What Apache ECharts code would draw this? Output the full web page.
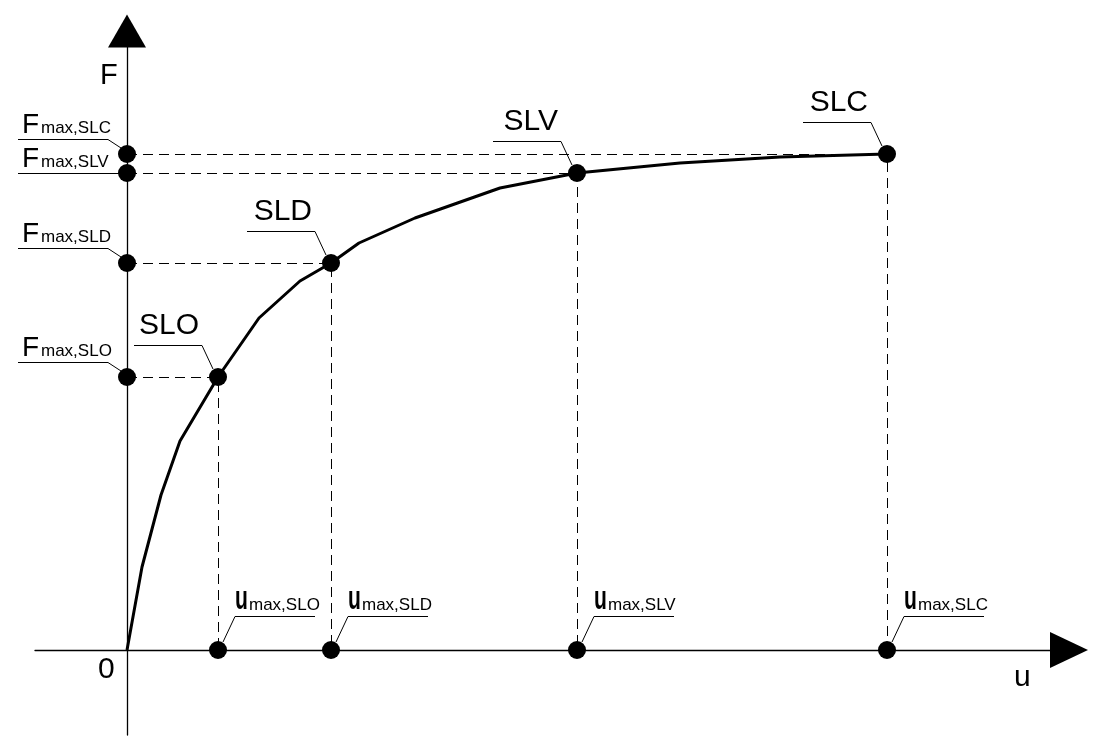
<!DOCTYPE html>
<html><head><meta charset="utf-8">
<script src="https://cdn.jsdelivr.net/npm/echarts@6/dist/echarts.min.js"></script>
<style>html,body{margin:0;padding:0;background:#fff}#c{width:1102px;height:737px}</style>
</head><body><div id="c"></div>
<script>
// ---- data ----
const stateNames = ['SLO', 'SLD', 'SLV', 'SLC'];
const uMax = [9.1, 20.4, 45.0, 76.0];
const fMax = [27.3, 38.7, 47.7, 49.6];
const curveU = [0, 1.5, 3.4, 5.3, 9.1, 13.2, 17.3, 20.4, 23.2, 28.8, 37.3, 45.0, 55.3, 65.3, 76.0];
const curveF = [0, 8.3, 15.5, 20.9, 27.3, 33.2, 36.9, 38.7, 40.7, 43.2, 46.2, 47.7, 48.7, 49.3, 49.6];
const axisNameX = 'u';
const axisNameY = 'F';
const originLabel = '0';
const subPrefix = 'max,';

const FONT = '"Liberation Sans", Arial, sans-serif';
function midY(baseline, fs) { return baseline - 0.3465 * fs; }
function crisp(v) { return Math.round(v - 0.5) + 0.5; }

const chart = echarts.init(document.getElementById('c'), null, {renderer: 'canvas'});

function seg(pts) {
  return {type: 'polyline', shape: {points: pts}, style: {stroke: '#000', lineWidth: 1, fill: null}};
}
function txt(x, y, text, font, align, extra) {
  return Object.assign({type: 'text', x: x, y: y,
    style: {text: text, font: font, align: align || 'left', verticalAlign: 'middle', fill: '#000'}}, extra || {});
}

function renderLabel(params, api) {
  const kind = api.value(2);
  const i = api.value(3);
  const p = api.coord([api.value(0), api.value(1)]);
  const name = stateNames[i];
  const ch = [];
  if (kind === 0) {
    const ulY = crisp(p[1] - 32), ulR = p[0] - 16, ulL = ulR - 68;
    ch.push(seg([[ulL, ulY], [ulR, ulY], [p[0] - 5, p[1] - 8]]));
    ch.push(txt(ulR - 3, midY(ulY - 9, 30), name, '30px ' + FONT, 'right'));
  } else if (kind === 1) {
    const yi = api.coord([0, fMax[i]])[1];
    const crowded = fMax.some(function (f) {
      return f > fMax[i] && (yi - api.coord([0, f])[1]) < 30;
    });
    let ulY, ulL = p[0] - 109, ulR;
    if (crowded) {
      ulY = crisp(p[1]); ulR = p[0] - 8;
      ch.push(seg([[ulL, ulY], [ulR, ulY]]));
    } else {
      ulY = crisp(p[1] - 15); ulR = p[0] - 19;
      ch.push(seg([[ulL, ulY], [ulR, ulY], [p[0] - 6, p[1] - 6]]));
    }
    const B = ulY - 5;
    ch.push(txt(p[0] - 105, midY(B, 28), 'F', '28px ' + FONT));
    ch.push(txt(p[0] - 86, midY(B, 17), subPrefix + name, '17px ' + FONT));
  } else {
    const ulY = crisp(p[1] - 34), ulL = p[0] + 17, ulR = p[0] + 97;
    ch.push(seg([[ulR, ulY], [ulL, ulY], [p[0] + 5, p[1] - 8]]));
    const B = ulY - 5;
    ch.push(txt(p[0] + 17, midY(B, 34), 'u', 'bold 34px ' + FONT, 'left', {scaleX: 0.62}));
    ch.push(txt(p[0] + 31, midY(B, 17), subPrefix + name, '17px ' + FONT));
  }
  return {type: 'group', children: ch};
}

function renderDash(params, api) {
  const u = api.value(0), f = api.value(1);
  const a = api.coord([0, f]), b = api.coord([u, f]), c = api.coord([u, 0]);
  const y = crisp(b[1]), x = crisp(b[0]);
  return {type: 'polyline', shape: {points: [[a[0], y], [x, y], [x, c[1]]]},
    style: {stroke: '#000', lineWidth: 1, fill: null, lineDash: [10, 6]}};
}

const labelData = [];
const dotData = [];
const dashData = [];
for (let i = 0; i < stateNames.length; i++) {
  labelData.push([uMax[i], fMax[i], 0, i]);
  labelData.push([0, fMax[i], 1, i]);
  labelData.push([uMax[i], 0, 2, i]);
  dotData.push([uMax[i], fMax[i]], [0, fMax[i]], [uMax[i], 0]);
  dashData.push([uMax[i], fMax[i]]);
}
const curveData = curveU.map(function (u, k) { return [u, curveF[k]]; });

const option = {
  animation: false,
  backgroundColor: '#fff',
  grid: {left: 35, right: 33, top: 31, bottom: 2, containLabel: false},
  xAxis: {
    type: 'value', min: -9.2, max: 94.2,
    axisLine: {onZero: true, lineStyle: {color: '#000', width: 1.3},
      symbol: ['none', 'triangle'], symbolSize: [36, 38]},
    axisTick: {show: false}, axisLabel: {show: false}, splitLine: {show: false}
  },
  yAxis: {
    type: 'value', min: -8.5, max: 61.9,
    axisLine: {onZero: true, lineStyle: {color: '#000', width: 1.3},
      symbol: ['none', 'triangle'], symbolSize: [38, 33]},
    axisTick: {show: false}, axisLabel: {show: false}, splitLine: {show: false}
  },
  graphic: [
    {type: 'text', x: 100, y: midY(86, 29), style: {text: axisNameY, font: '29px ' + FONT, verticalAlign: 'middle', fill: '#000'}},
    {type: 'text', x: 1014, y: midY(688, 30), style: {text: axisNameX, font: '30px ' + FONT, verticalAlign: 'middle', fill: '#000'}},
    {type: 'text', x: 98, y: midY(680, 30), style: {text: originLabel, font: '30px ' + FONT, verticalAlign: 'middle', fill: '#000'}}
  ],
  series: [
    {type: 'custom', renderItem: renderDash, data: dashData, z: 1, silent: true},
    {type: 'line', data: curveData, showSymbol: false, symbol: 'none', z: 2,
      lineStyle: {color: '#000', width: 3, opacity: 1}, silent: true},
    {type: 'custom', renderItem: renderLabel, data: labelData, z: 3, silent: true},
    {type: 'scatter', data: dotData, symbolSize: 18, itemStyle: {color: '#000', opacity: 1}, z: 4, silent: true}
  ]
};
chart.setOption(option);
</script>
</body></html>
